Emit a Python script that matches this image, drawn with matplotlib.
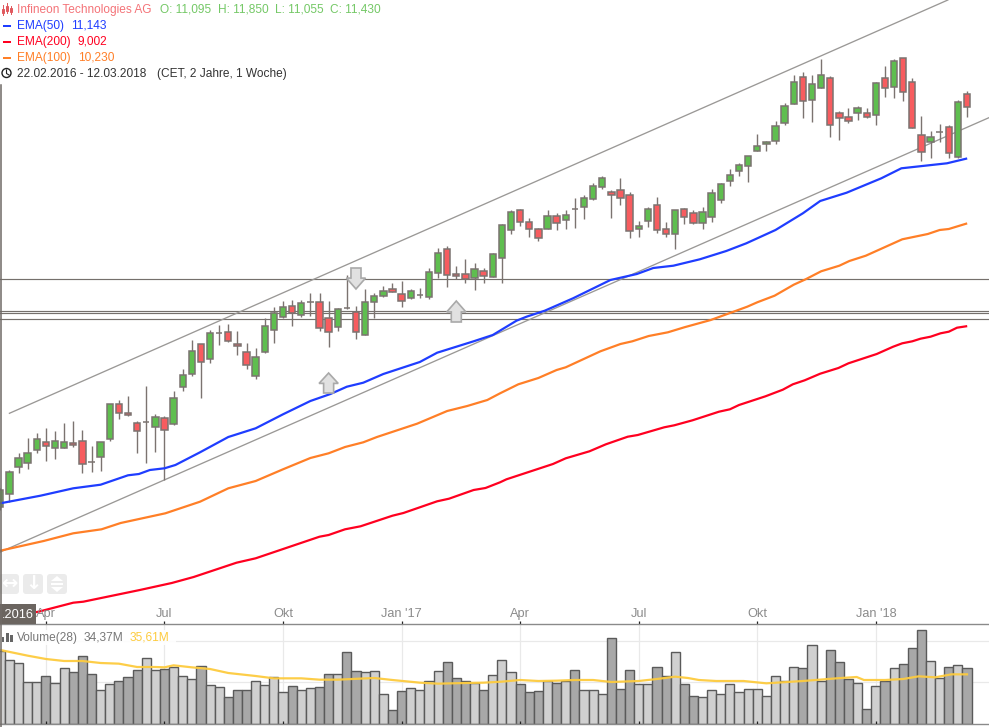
"""
Weekly candlestick chart of Infineon with EMAs, trend channel and volume pane
"""

#---------------------------------------------------------------------------------------------------
# Import Modules
#---------------------------------------------------------------------------------------------------

import matplotlib
matplotlib.use('Agg')
import matplotlib.pyplot as plt
from matplotlib.patches import Polygon, Rectangle, FancyBboxPatch, Circle
import numpy as np


#---------------------------------------------------------------------------------------------------
# Input Parameters
#---------------------------------------------------------------------------------------------------

opens = [113, 126, 152.7, 156.7, 169.7, 178.3, 171.7, 171.7, 176.7, 178.7,
         158.5, 162.7, 180.7, 215.7, 206.7, 196.7, 198.1, 193.3, 201.7, 195.7,
         232.7, 245.7, 275.7, 260.7, 286.8, 287.7, 275.7, 268.3, 243.7, 268.3,
         290, 303.3, 313.7, 305.3, 318.1, 317.7, 302.3, 293.3, 312.5, 308,
         284.7, 317.7, 323.7, 330.7, 325.7, 321.7, 324.8, 322.7, 346.7, 370.7,
         345.7, 345.7, 341.7, 348.7, 342.7, 362.3, 389.7, 409.7, 397.7, 390.7,
         390.7, 403.7, 399.7, 411.5, 412.7, 420.7, 432.7, 427.7, 429.7, 424.7,
         390.7, 398.7, 414.7, 390.7, 385.7, 410.7, 406.7, 396.7, 402.7, 419.7,
         438.7, 448.7, 453.7, 468.7, 475.7, 478.7, 496.7, 515.7, 542.7, 519.7,
         531.7, 541.7, 506.7, 502.7, 506.7, 506.7, 504.7, 541.7, 532.7, 561.7,
         537.7, 484.7, 477.7, 488.1, 492.7, 462.7, 525.7]
highs = [132, 150, 166.7, 181.7, 186.7, 191.7, 189, 196.7, 199, 190,
         174, 177.7, 215.7, 220, 224, 199.3, 234, 206, 204, 228.7,
         251, 280, 275.7, 290, 295, 295.7, 289, 276.7, 271.7, 301.7,
         312.7, 319, 320, 320, 326.7, 326.7, 319, 311.7, 345, 314,
         330.7, 326.7, 334, 336.7, 339, 330.7, 331.7, 351.7, 371.7, 374,
         354, 360.7, 356.7, 351.7, 366.7, 396, 410, 411, 401.7, 391.7,
         410, 406.7, 410, 421.7, 425, 436.7, 443.7, 430, 441.7, 427.7,
         398.7, 412.7, 422.7, 397.7, 410.3, 411.7, 409.7, 412.7, 430.7, 436.7,
         450.7, 456.7, 463.7, 486, 479, 499, 516.7, 544.7, 547.7, 544.7,
         560.7, 543.7, 508.7, 511.7, 513.7, 511.7, 537.7, 554, 560.7, 561.7,
         541.7, 504, 489, 496, 494.7, 519.7, 528.7]
lows = [110, 118.3, 146.7, 150.7, 167.3, 159.3, 161.3, 171.7, 173.3, 146.7,
        148.3, 149.3, 179.3, 201.3, 204, 167.3, 156.7, 168.3, 140, 195.3,
        229, 244.3, 222.3, 257.3, 275, 278.3, 265, 251.3, 241.3, 267.3,
        277, 302.3, 294.3, 303.3, 304, 289.3, 273.3, 289.3, 310.7, 281.3,
        284.7, 302.3, 323.3, 327.7, 313.3, 320.7, 321.7, 320.7, 342.3, 333.3,
        340.7, 337.3, 330, 337.3, 342.7, 337.3, 386.3, 394.3, 383.3, 379.3,
        390.7, 390.3, 391, 392.3, 401.3, 419.7, 430.7, 402.3, 415.3, 382.3,
        383.3, 393.3, 386.7, 383.3, 370.7, 396, 395.7, 391.3, 398.3, 417.3,
        434, 444, 437.7, 468.7, 469.3, 475.7, 495.3, 515.7, 502.3, 498.3,
        531.7, 483.3, 480.3, 496.7, 500.3, 502.3, 495.3, 523.3, 522.3, 519.3,
        491.7, 459.3, 462.3, 478.3, 462.3, 462.3, 503.3]
closes = [130, 148, 161.7, 166.7, 180.7, 173.7, 178.7, 177.7, 174.7, 155.7,
          158.1, 177.7, 215.7, 206.7, 204.7, 188.7, 198.5, 202.7, 189.7, 221.7,
          244.7, 268.7, 257.7, 286.7, 287.2, 279.3, 273.7, 254.7, 262.7, 293.7,
          307, 312.7, 306.7, 316.7, 318.5, 292.3, 288.3, 310.7, 312.1, 287.7,
          317.7, 323.7, 328.7, 327.7, 318.7, 328.7, 325.2, 347.7, 366.7, 344.7,
          343.7, 340.7, 350.7, 343.7, 365.7, 394.7, 407.7, 397.7, 390.7, 381.7,
          403.7, 396.7, 404.7, 411.1, 421.7, 433.7, 441.7, 424.7, 421.7, 388.7,
          393.7, 410.7, 389.7, 385.7, 409.7, 402.7, 396.7, 407.7, 426.7, 435.7,
          444.7, 454.7, 463.7, 473.7, 477.7, 493.7, 513.7, 537.7, 518.7, 535.7,
          544.7, 494.7, 501.7, 498.7, 511.7, 502.7, 536.7, 531.7, 558.7, 527.7,
          491.7, 467.7, 482.7, 488.5, 466.7, 517.7, 512.7]

# Volume in millions
volume = [43.8, 38.2, 36.4, 25.0, 25.0, 28.6, 24.4, 33.4, 31.0, 40.6,
          29.8, 20.2, 23.8, 25.6, 28.0, 32.2, 39.4, 32.2, 32.8, 34.0,
          28.6, 26.8, 34.6, 23.2, 22.0, 16.0, 20.2, 20.2, 25.6, 23.2,
          28.0, 19.0, 22.6, 20.2, 21.4, 22.0, 29.8, 29.8, 43.0, 31.6,
          31.0, 31.6, 17.8, 8.2, 19.6, 21.4, 20.2, 25.6, 31.6, 37.0,
          27.4, 25.6, 24.4, 20.2, 29.2, 38.2, 31.0, 23.8, 19.0, 19.6,
          25.6, 24.4, 25.6, 32.2, 20.2, 20.2, 17.8, 51.4, 20.8, 32.2,
          23.8, 23.8, 34.0, 28.6, 43.0, 23.8, 16.6, 16.0, 20.2, 17.8,
          23.8, 19.0, 20.8, 20.8, 16.6, 28.6, 25.6, 34.0, 33.4, 47.2,
          25.6, 44.2, 37.0, 26.8, 24.4, 8.8, 22.6, 25.6, 33.4, 35.8,
          45.4, 56.2, 37.6, 27.4, 34.0, 35.2, 33.4]

# Volume moving average
vol_ma_x = [0, 3, 5, 7, 9, 11, 13, 15, 17, 18, 19, 21, 23, 25, 28, 30, 33, 35, 37, 41,
            43, 46, 48, 51, 53, 55, 57, 59, 61, 63, 65, 67, 70, 72, 74, 75.4, 76.6, 78.5,
            81.5, 84, 88, 91.7, 93.9, 94.7, 97, 99, 100.7, 102.5, 104.3, 106]
vol_ma = [44.4, 41.0, 39.0, 37.8, 37.8, 36.6, 36.2, 34.2, 34.2, 34.0, 35.2, 34.0, 33.0, 30.6,
          28.8, 27.4, 27.4, 26.6, 26.6, 27.6, 26.4, 24.8, 24.2, 24.6, 24.8, 25.4, 26.4, 25.8,
          26.0, 26.4, 26.4, 25.2, 25.8, 27.0, 28.4, 27.6, 26.4, 25.8, 25.8, 24.4, 25.8, 27.4,
          28.2, 26.4, 26.4, 27.0, 28.6, 28.0, 29.8, 29.8]

# EMAs, read at the week positions in *_x
ema50_x = [0, 4.4, 8, 11, 14, 15.2, 16.4, 18, 19.2, 21.9, 25, 28, 31, 34, 36.2, 38, 39.8, 42, 46,
           47.9, 51.9, 54, 56.6, 57.7, 59.7, 62.8, 66.9, 69.8, 71.6, 73.8, 76.7, 79.6, 81.8, 85,
           88, 89.9, 92.8, 96.6, 98.8, 103.8, 105.9]
ema50 = [116.7, 124.3, 131.7, 135.3, 144.7, 146, 150, 151.7, 155, 167.7, 183, 191.7, 205.7, 219,
         226, 233.3, 237.3, 246, 258, 267.3, 278.7, 285, 299.3, 303.3, 309.3, 321.7, 340, 346,
         352, 354.3, 360.7, 369, 376.7, 390, 406.7, 419, 427.3, 441.7, 451.7, 456.7, 461.3]
ema100_x = [0, 4.75, 8, 11.1, 13.2, 18.1, 21.9, 25, 28, 31, 34, 36, 37.8, 39.8, 41.3, 45.7, 49,
            51.2, 53.4, 54.8, 56.8, 59, 61, 62, 65.8, 68, 69.3, 71.1, 73.2, 75, 77.9, 80.1, 81.9,
            83, 84.9, 87, 88.3, 90, 92, 93.1, 94.9, 98.9, 101.7, 103, 104, 105.9]
ema100 = [69.3, 79, 86.7, 90.7, 97, 106.7, 118.3, 131.7, 139, 150.7, 162, 166.7, 173, 177.7, 183,
          196.3, 209, 214, 220, 226.7, 235.7, 242, 250, 252.7, 268.7, 276, 278.7, 284, 287.7,
          292.7, 300, 307.3, 313.3, 317.7, 324.3, 335.3, 340.7, 348.7, 354.3, 359, 364.3, 380.7,
          386, 390, 391, 396.3]
ema200_x = [0, 4.2, 8, 9.1, 15.3, 18.8, 21.2, 25.9, 28, 35, 36, 37.8, 39.5, 43, 44.2, 47.9, 49.2,
            51.9, 53.2, 54.8, 55.5, 60.6, 62, 64.6, 66.4, 68.8, 69.9, 72.8, 73.9, 75.9, 78.8, 80,
            81, 83.9, 85.8, 86.9, 88.2, 89.9, 91.9, 93, 96.1, 97.9, 98.9, 100, 100.9, 102, 103.1,
            104, 104.9, 105.9]
ema200 = [2, 8.3, 17.3, 18.3, 30, 37, 43, 57.3, 61.7, 83.3, 85, 90.7, 93.7, 104.3, 107, 118.7,
          121.3, 130, 132, 137.7, 140.7, 156, 161.7, 168.7, 175.7, 183.3, 185, 192.7, 194.7,
          199.7, 208.3, 210.7, 215, 223.7, 230.3, 235.7, 239.7, 246.3, 252, 256.7, 266, 273.3,
          276.7, 278.7, 281.3, 283.3, 286.7, 288.3, 292.3, 293.7]

# Drawn-in trend channel and horizontal levels
upper_x = [1, 103.9]
upper_y = [206.7, 620]
lower_x = [0, 108.4]
lower_y = [68, 502.3]
hlines = [341.3, 309.3, 307.3, 300.7]

# Drawn-in arrows (week, bottom level, top level)
up_arrows = [(36, 227, 247), (50, 298, 319)]
down_arrows = [(39, 331, 352)]

tick_weeks = [5, 18, 31, 44, 57, 70, 83, 96]
tick_labels = ['Apr', 'Jul', 'Okt', "Jan '17", 'Apr', 'Jul', 'Okt', "Jan '18"]

# Colors
col_edge = '#7b7370'
col_green = '#5fbe4f'
col_red = '#f75c5f'
col_blue = '#1f3dff'
col_ema200 = '#ff0020'
col_orange = '#ff7f27'
col_yellow = '#fdcb3e'
col_level = '#75706c'
col_channel = '#9a9896'

plt.rcParams['font.family'] = ['Liberation Sans', 'DejaVu Sans']


#---------------------------------------------------------------------------------------------------
# Create Plot
#---------------------------------------------------------------------------------------------------

fig = plt.figure(figsize=(9.89, 7.27), dpi=100)
ax = fig.add_axes([0, 1 - 624/727, 1, 624/727])
axv = fig.add_axes([0, 3/727, 1, 100/727])

weeks = np.arange(len(opens))
o = np.array(opens)
c = np.array(closes)
up = c >= o
xlim = (-0.033, 108.41)

# Price pane
for lvl in hlines:
    ax.axhline(lvl, color=col_level, lw=0.85, zorder=1)
ax.plot(upper_x, upper_y, color=col_channel, lw=0.95, zorder=2)
ax.plot(lower_x, lower_y, color=col_channel, lw=0.95, zorder=2)
ax.vlines(weeks, lows, highs, color=col_edge, lw=1.0, zorder=3)
ax.bar(weeks, np.abs(c - o), bottom=np.minimum(o, c), width=0.7,
       color=[col_green if u else col_red for u in up], edgecolor=col_edge, linewidth=1.1, zorder=4)
ax.plot(ema50_x, ema50, color=col_blue, lw=1.6, zorder=5)
ax.plot(ema100_x, ema100, color=col_orange, lw=1.6, zorder=5)
ax.plot(ema200_x, ema200, color=col_ema200, lw=1.6, zorder=5)

for wk, lo, hi in up_arrows:
    mid = lo + (hi - lo)*0.48
    ax.add_patch(Polygon([(wk - 0.55, lo), (wk + 0.55, lo), (wk + 0.55, mid), (wk + 1.05, mid),
                          (wk, hi), (wk - 1.05, mid), (wk - 0.55, mid)],
                         fc='#e1e1e1', ec='#a9a9a9', lw=1.2, zorder=6))
for wk, lo, hi in down_arrows:
    mid = hi - (hi - lo)*0.48
    ax.add_patch(Polygon([(wk - 0.55, hi), (wk + 0.55, hi), (wk + 0.55, mid), (wk + 1.05, mid),
                          (wk, lo), (wk - 1.05, mid), (wk - 0.55, mid)],
                         fc='#e1e1e1', ec='#a9a9a9', lw=1.2, zorder=6))

ax.set_xlim(xlim)
ax.set_ylim(-4, 620)
ax.axis('off')

# Volume pane
axv.set_axisbelow(True)
axv.bar(weeks, volume, width=1.0, color=['#d0d0d0' if u else '#a8a8a8' for u in up],
        edgecolor='#5a5a5a', linewidth=1.0, zorder=2)
axv.plot(vol_ma_x, vol_ma, color=col_yellow, lw=1.6, alpha=0.95, zorder=3)
axv.vlines(tick_weeks, 0, 1.8, color='#222222', lw=0.9, zorder=4)
axv.set_xlim(xlim)
axv.set_ylim(0, 60)
axv.set_xticks(tick_weeks)
axv.set_xticklabels(tick_labels, color='#8b8b8b', fontsize=9.2)
axv.xaxis.tick_top()
axv.tick_params(axis='x', top=True, bottom=False, direction='out', length=2.2, width=0.9,
                color='#222222', pad=0.5)
axv.set_yticks([25, 50])
axv.set_yticklabels([])
axv.tick_params(axis='y', left=False, right=False)
axv.grid(color='#e9e9e9', lw=0.9)
for side in ['left', 'right']:
    axv.spines[side].set_visible(False)
for side in ['top', 'bottom']:
    axv.spines[side].set_color('#8a8a8a')
    axv.spines[side].set_linewidth(1.0)

# Overlay for the header texts and chart controls, laid out in pixels
ov = fig.add_axes([0, 0, 1, 1], zorder=10)
ov.set_xlim(0, 989)
ov.set_ylim(727, 0)
ov.axis('off')
ov.patch.set_alpha(0)

def label(x, y, s, color, size=8.6, **kw):
    ov.text(x, y + 1, s, color=color, fontsize=size, va='center', ha='left', **kw)

label(17, 9, 'Infineon Technologies AG', '#f47378')
label(160, 9, 'O: 11,095', '#74c866')
label(218, 9, 'H: 11,850', '#74c866')
label(275, 9, 'L: 11,055', '#74c866')
label(330, 9, 'C: 11,430', '#74c866')
label(17, 25, 'EMA(50)', col_blue)
label(71, 25, '11,143', col_blue)
label(17, 41, 'EMA(200)', col_ema200)
label(77, 41, '9,002', col_ema200)
label(17, 57, 'EMA(100)', col_orange)
label(78, 57, '10,230', col_orange)
label(17, 73, '22.02.2016 - 12.03.2018', '#333333')
label(157, 73, '(CET, 2 Jahre, 1 Woche)', '#333333')

# Legend dashes
for yy, col in zip([25.5, 41.5, 57.5], [col_blue, col_ema200, col_orange]):
    ov.add_patch(Rectangle((3, yy - 1), 8, 2.2, fc=col, ec='none'))

# Candle icon in the first row
for xx, y0, y1, top, bot in [(2.5, 9, 13, 5, 15), (6.5, 6, 11, 3, 13), (10.5, 8, 12, 6, 14)]:
    ov.plot([xx, xx], [top, bot], color='#e0555a', lw=0.7)
    ov.add_patch(Rectangle((xx - 1, y0), 2, y1 - y0, fc='white', ec='#e0555a', lw=0.7))

# Clock icon
ov.add_patch(Circle((6.5, 73), 4.5, fc='white', ec='#222222', lw=1.0))
ov.plot([6.5, 6.5, 9], [70, 73.5, 75], color='#222222', lw=0.8)

# Cursor line and date box
ov.plot([0.8, 0.8], [85, 727], color='#6f6a66', lw=1.1)
ov.add_patch(Rectangle((0, 604), 36, 20, fc='#6b6560', ec='none'))
label(2, 614.5, '.2016', 'white', size=9.2)

# Chart controls
for xx, glyph in zip([-1, 23, 47], ['\u2194', '\u2193', '']):
    ov.add_patch(FancyBboxPatch((xx + 2, 576), 16, 16, boxstyle='round,pad=2,rounding_size=3',
                                fc='#ebebeb', ec='none'))
    if glyph:
        ov.text(xx + 10, 583.5, glyph, color='white', fontsize=14, ha='center', va='center',
                family='DejaVu Sans', fontweight='bold')
ov.add_patch(Polygon([(51, 581), (63, 581), (57, 576)], fc='white', ec='none'))
ov.add_patch(Polygon([(51, 587), (63, 587), (57, 592)], fc='white', ec='none'))
ov.add_patch(Rectangle((51, 583), 12, 2, fc='white', ec='none'))

# Volume legend
ov.add_patch(Rectangle((0, 630), 176, 15, fc='white', ec='none', alpha=0.9))
for xx, hh in zip([1.5, 6, 10], [5, 9, 7]):
    ov.add_patch(Rectangle((xx, 642 - hh), 2.6, hh, fc='#666666', ec='none'))
label(17, 637, 'Volume(28)', '#777777')
label(84, 637, '34,37M', '#777777')
label(130, 637, '35,61M', col_yellow)

plt.savefig('out.png', dpi=100)


"""
End plot.py
"""
